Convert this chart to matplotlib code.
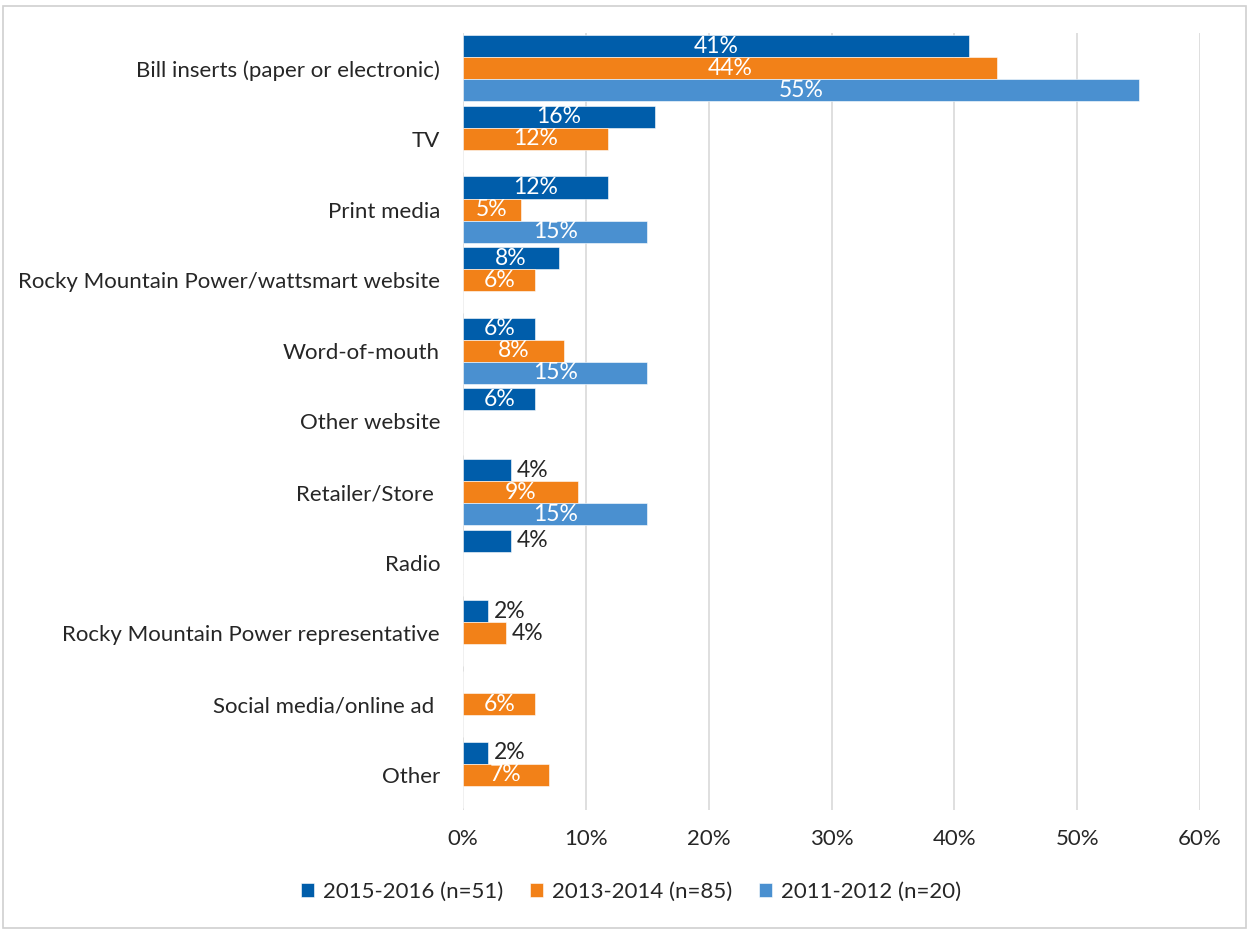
import numpy as np
import matplotlib.pyplot as plt
from matplotlib.patches import Rectangle

plt.rcParams['font.family'] = ['Lato', 'DejaVu Sans']

categories = [
    "Bill inserts (paper or electronic)",
    "TV",
    "Print media",
    "Rocky Mountain Power/wattsmart website",
    "Word-of-mouth",
    "Other website",
    "Retailer/Store ",
    "Radio",
    "Rocky Mountain Power representative",
    "Social media/online ad ",
    "Other",
]
series_names = ["2015-2016 (n=51)", "2013-2014 (n=85)", "2011-2012 (n=20)"]
# values in percent, None where the year has no bar
vals_2015 = [41.2, 15.6, 11.8, 7.8, 5.9, 5.9, 3.9, 3.9, 2.0, None, 2.0]
vals_2013 = [43.5, 11.8, 4.7, 5.9, 8.2, None, 9.4, None, 3.5, 5.9, 7.0]
vals_2011 = [55.0, None, 15.0, None, 15.0, None, 15.0, None, None, None, None]
colors = ["#005DAA", "#F28118", "#4A90D0"]

fig = plt.figure(figsize=(12.5, 9.31), dpi=100)
ax = fig.add_axes([0.3704, 0.13, 0.96 - 0.3704, 0.9646 - 0.13])

fig.patches.append(Rectangle((0.002, 0.003), 0.995, 0.991, transform=fig.transFigure,
                             fill=False, edgecolor="#d0d0d0", linewidth=1.2))

y = np.arange(len(categories))
h = 0.312
txt = "#262626"
fs = 16

for k, (vals, col, name) in enumerate(zip([vals_2015, vals_2013, vals_2011], colors, series_names)):
    pos = y + (k - 1) * h
    widths = [v if v is not None else 0 for v in vals]
    ax.barh(pos, widths, height=h, color=col, edgecolor="white", linewidth=0.4,
            label=name, zorder=3)
    for p, v in zip(pos, vals):
        if v is None:
            continue
        lab = f"{round(v):.0f}%"
        if v >= 4.5:
            ax.text(v / 2, p, lab, ha="center", va="center", color="white",
                    fontsize=16.5, zorder=4)
        else:
            ax.text(v + 0.5, p, lab, ha="left", va="center", color=txt,
                    fontsize=16.5, zorder=4)

ax.set_xlim(0, 60)
ax.set_ylim(len(categories) - 0.5, -0.5)
ax.set_xticks(np.arange(0, 61, 10))
ax.set_xticklabels([f"{t}%" for t in range(0, 61, 10)], fontsize=fs, color=txt)
ax.set_yticks(y)
ax.set_yticklabels(categories, fontsize=fs, color=txt)
ax.tick_params(length=0)
ax.tick_params(axis="x", pad=14)
ax.tick_params(axis="y", pad=16.5)
ax.grid(axis="x", color="#d9d9d9", linewidth=1.2, zorder=0)
for s in ax.spines.values():
    s.set_visible(False)

ax.legend(loc="center", bbox_to_anchor=(0.228, -0.105), ncol=3,
          frameon=False, fontsize=fs, handlelength=0.6, handleheight=0.6,
          handletextpad=0.4, columnspacing=1.2, labelcolor=txt)

plt.savefig("out.png", dpi=100)
